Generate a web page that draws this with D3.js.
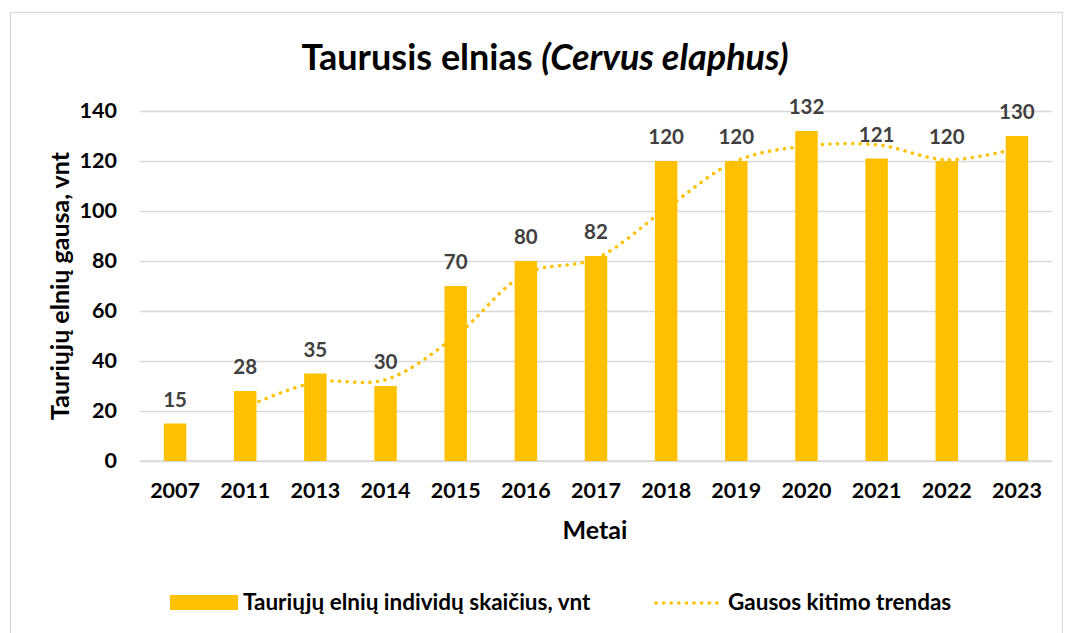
<!DOCTYPE html>
<html><head><meta charset="utf-8">
<script src="https://cdn.jsdelivr.net/npm/d3@7/dist/d3.min.js"></script>
<style>
html,body{margin:0;padding:0;background:#fff;}
svg{display:block;font-family:Lato,"Open Sans",sans-serif;}
</style></head>
<body>
<svg id="chart" width="1070" height="633"></svg>
<script>
const years = ["2007","2011","2013","2014","2015","2016","2017","2018","2019","2020","2021","2022","2023"];
const counts = [15,28,35,30,70,80,82,120,120,132,121,120,130];
const trendYears = ["2011","2013","2014","2015","2016","2017","2018","2019","2020","2021","2022","2023"];
const trendValues = [21.5,31.5,32.5,50,75,81,101,120,126,126.5,120.5,125];
const yTicks = [0,20,40,60,80,100,120,140];

const svg = d3.select("#chart");
const gold = "#FFC000";
const FONT = "Lato, 'Open Sans', sans-serif";
const m = {left:140, right:1052, top:111, bottom:461};

svg.append("rect").attr("x",10.5).attr("y",12.5).attr("width",1052).attr("height",640)
  .attr("fill","#fff").attr("stroke","#d9d9d9").attr("stroke-width",1.2);

const x = d3.scaleBand().domain(years).range([m.left,m.right]).paddingInner(0.68).paddingOuter(0.34);
const y = d3.scaleLinear().domain([0,140]).range([m.bottom,m.top]);

// gridlines
const yAxis = d3.axisLeft(y).tickValues(yTicks).tickSize(-(m.right-m.left)).tickPadding(23);
const gy = svg.append("g").attr("transform",`translate(${m.left},0)`).call(yAxis)
  .attr("font-family",FONT);
gy.select(".domain").remove();
gy.selectAll(".tick line").attr("stroke","#d9d9d9").attr("stroke-width",1.5);
gy.selectAll(".tick text").attr("font-size",21.5).attr("font-weight","bold").attr("fill","#000");

// x axis
const xAxis = d3.axisBottom(x).tickSize(0).tickPadding(22);
const gx = svg.append("g").attr("transform",`translate(0,${m.bottom})`).call(xAxis)
  .attr("font-family",FONT);
gx.select(".domain").attr("stroke","#d9d9d9").attr("stroke-width",1.5)
  .attr("d",`M${m.left},0H${m.right}`);
gx.selectAll(".tick text").attr("font-size",21.5).attr("font-weight","bold").attr("fill","#000");

// trend line (behind bars)
const line = d3.line().x((d,i)=>x(trendYears[i])+x.bandwidth()/2).y(d=>y(d)).curve(d3.curveCatmullRom.alpha(0.5));
svg.append("path").datum(trendValues).attr("d",line).attr("fill","none")
  .attr("stroke",gold).attr("stroke-width",3.5).attr("stroke-linecap","round")
  .attr("stroke-dasharray","0.1 7.5");

// bars
svg.append("g").selectAll("rect").data(counts).join("rect")
  .attr("x",(d,i)=>x(years[i])).attr("width",x.bandwidth())
  .attr("y",d=>y(d)).attr("height",d=>y(0)-y(d)).attr("fill",gold);

// data labels
svg.append("g").selectAll("text").data(counts).join("text")
  .attr("x",(d,i)=>x(years[i])+x.bandwidth()/2).attr("y",d=>y(d)-17)
  .attr("text-anchor","middle").attr("font-size",20.5).attr("font-weight","bold")
  .attr("fill","#404040").text(d=>d);

// title
const t = svg.append("text").attr("x",545).attr("y",70).attr("text-anchor","middle")
  .attr("font-size",36).attr("font-weight","bold").attr("fill","#000");
t.append("tspan").text("Taurusis elnias ");
t.append("tspan").attr("font-style","italic").text("(Cervus elaphus)");

// axis titles
svg.append("text").attr("transform","translate(69,286) rotate(-90)").attr("text-anchor","middle")
  .attr("font-size",25).attr("font-weight","bold").attr("fill","#000").text("Tauriųjų elnių gausa, vnt");
svg.append("text").attr("x",595).attr("y",539).attr("text-anchor","middle")
  .attr("font-size",25).attr("font-weight","bold").attr("fill","#000").text("Metai");

// legend
const lg = svg.append("g");
lg.append("rect").attr("x",170).attr("y",595).attr("width",68).attr("height",15).attr("fill",gold);
lg.append("text").attr("x",243).attr("y",610).attr("font-size",22.5).attr("font-weight","bold").attr("fill","#000")
  .text("Tauriųjų elnių individų skaičius, vnt");
lg.append("line").attr("x1",656).attr("x2",718).attr("y1",603).attr("y2",603)
  .attr("stroke",gold).attr("stroke-width",3.5).attr("stroke-linecap","round").attr("stroke-dasharray","0.1 7.5");
lg.append("text").attr("x",728).attr("y",610).attr("font-size",22.5).attr("font-weight","bold").attr("fill","#000")
  .text("Gausos kitimo trendas");
</script>
</body></html>
